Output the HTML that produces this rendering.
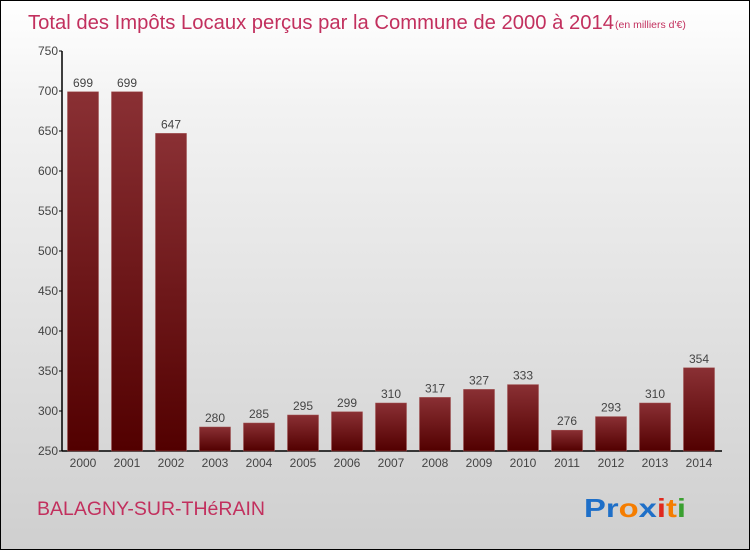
<!DOCTYPE html>
<html><head><meta charset="utf-8"><style>
body{margin:0;}
#c{width:748px;height:548px;border:1px solid #000;background:linear-gradient(#fff,#f2f2f2 20%,#cfcfcf);position:relative;font-family:"Liberation Sans",sans-serif;overflow:hidden}
svg{position:absolute;left:0;top:0}
</style></head><body>
<div id="c">
<svg id="s" width="750" height="550">
<defs><linearGradient id="g" x1="0" y1="0" x2="0" y2="1"><stop offset="0" stop-color="#8a3034"/><stop offset="1" stop-color="#520000"/></linearGradient></defs>
<text x="27" y="28" font-size="20" fill="#c2305e" textLength="586" lengthAdjust="spacingAndGlyphs">Total des Impôts Locaux perçus par la Commune de 2000 à 2014</text>
<text x="614" y="27" font-size="10.5" fill="#c2305e">(en milliers d'€)</text>
<text x="36" y="514" font-size="19" fill="#c2305e" textLength="228" lengthAdjust="spacingAndGlyphs">BALAGNY-SUR-THéRAIN</text>
<text x="583" y="516" font-size="26" font-weight="bold" textLength="102" lengthAdjust="spacingAndGlyphs"><tspan fill="#1e6fc8">Pr</tspan><tspan fill="#f57d00">o</tspan><tspan fill="#1e6fc8">x</tspan><tspan fill="#e0281e">i</tspan><tspan fill="#f57d00">t</tspan><tspan fill="#3aa030">i</tspan></text>
</svg>
</div>
<script>
const categories=["2000","2001","2002","2003","2004","2005","2006","2007","2008","2009","2010","2011","2012","2013","2014"];
const values=[699,699,647,280,285,295,299,310,317,327,333,276,293,310,354];
const yTicks=[250,300,350,400,450,500,550,600,650,700,750];
const s=document.getElementById('s');
const NS='http://www.w3.org/2000/svg';
const y=v=>450-(v-250)*0.8;
const x=i=>82+i*44;
function mk(t,a){const e=document.createElementNS(NS,t);for(const k in a)e.setAttribute(k,a[k]);s.appendChild(e);return e;}
let ax=mk('line',{x1:61,y1:50,x2:61,y2:450,stroke:'#000','stroke-width':1.5});


let bx=mk('line',{x1:61,y1:450,x2:721,y2:450,stroke:'#000','stroke-width':1.5});


yTicks.forEach(v=>{
 const t=mk('line',{x1:58,y1:y(v),x2:61,y2:y(v),stroke:'#000'});
 
 
 const l=mk('text',{x:57,y:y(v)+4,'text-anchor':'end','font-size':12,fill:'#444'});
 l.textContent=v;
 
 
});
categories.forEach((c,i)=>{
 const v=values[i];
 const r=mk('rect',{x:x(i)-15.5,y:y(v),width:31,height:450-y(v),fill:'url(#g)',stroke:'#a05050','stroke-width':0.5});
 
 
 const vl=mk('text',{x:x(i),y:y(v)-5,'text-anchor':'middle','font-size':12,fill:'#444'});
 vl.textContent=v;
 
 
 const xl=mk('text',{x:x(i),y:466,'text-anchor':'middle','font-size':12,fill:'#444'});
 xl.textContent=c;
 
 
});
</script>
</body></html>
